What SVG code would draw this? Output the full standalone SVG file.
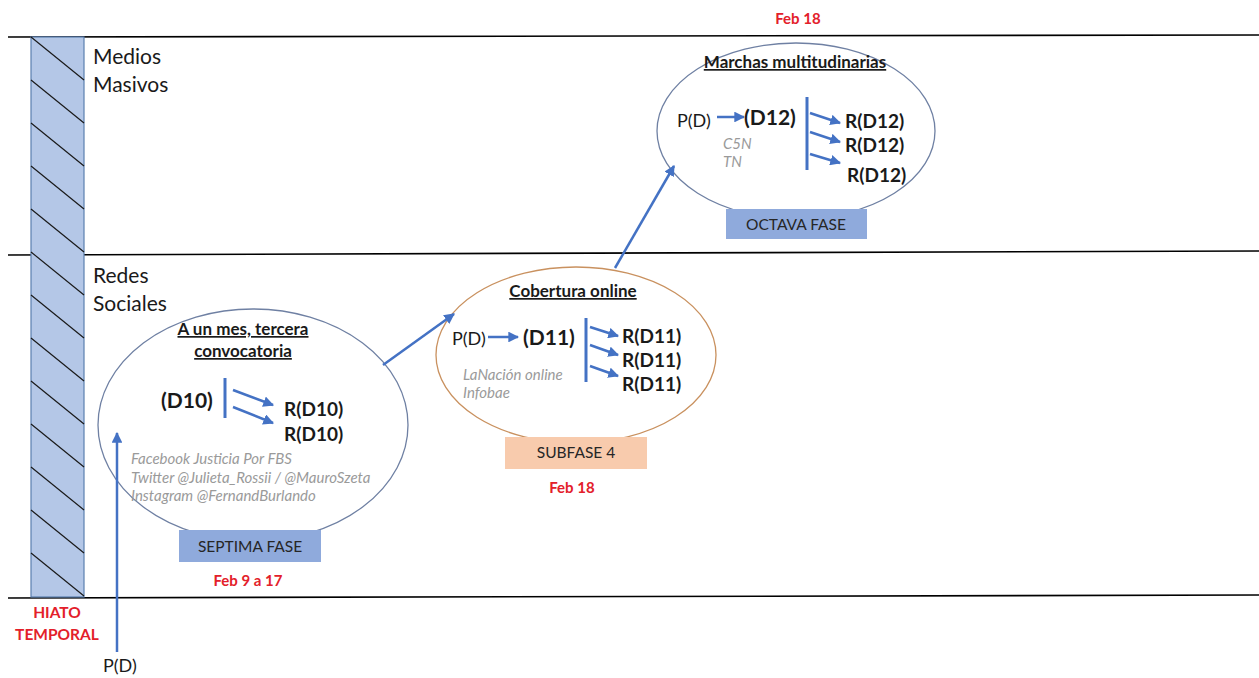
<svg xmlns="http://www.w3.org/2000/svg" width="1259" height="678" viewBox="0 0 1259 678">
<style>
text{font-family:Lato,"Open Sans","Liberation Sans",sans-serif;fill:#1a1a1a}
.lane{font-size:21px}
.title{font-size:17px;font-weight:bold;text-decoration:underline;text-anchor:middle}
.big{font-size:21px;font-weight:bold}
.r{font-size:19px;font-weight:bold}
.pd{font-size:18px}
.src{font-size:15px;font-style:italic;fill:#9a9a9a}
.lbl{font-size:15.5px;text-anchor:middle;fill:#262626}
.red{font-size:15px;font-weight:bold;fill:#e3202a;text-anchor:middle}
.hi{font-size:15.5px}
.arr{stroke:#4472c4;stroke-width:2.5;fill:none;marker-end:url(#ah)}
.bar{stroke:#4472c4;stroke-width:3}
.sep{stroke:#000;stroke-width:1.6}
</style>
<defs>
<marker id="ah" viewBox="0 0 10 10" refX="9" refY="5" markerWidth="4.3" markerHeight="4.3" orient="auto" markerUnits="strokeWidth">
<path d="M0,0 L10,5 L0,10 z" fill="#4472c4"/>
</marker>
</defs>
<rect width="1259" height="678" fill="#fff"/>

<g id="lanes">
<line class="sep" x1="8" y1="37" x2="1259" y2="35"/>
<line class="sep" x1="8" y1="255" x2="1259" y2="251"/>
<line class="sep" x1="8" y1="598" x2="1259" y2="595"/>
<text class="lane" x="93" y="64">Medios</text>
<text class="lane" x="93" y="92">Masivos</text>
<text class="lane" x="93" y="283">Redes</text>
<text class="lane" x="93" y="311">Sociales</text>
</g>

<g id="hiato">
<rect x="31" y="37" width="53" height="560" fill="#b4c7e7" stroke="#5b7fb0" stroke-width="1.2"/>
<g stroke="#1a1a1a" stroke-width="1.2">
<line x1="31" y1="37" x2="84" y2="80"/>
<line x1="31" y1="80" x2="84" y2="123"/>
<line x1="31" y1="123" x2="84" y2="166"/>
<line x1="31" y1="166" x2="84" y2="209"/>
<line x1="31" y1="209" x2="84" y2="252"/>
<line x1="31" y1="252" x2="84" y2="295"/>
<line x1="31" y1="295" x2="84" y2="338"/>
<line x1="31" y1="338" x2="84" y2="381"/>
<line x1="31" y1="381" x2="84" y2="424"/>
<line x1="31" y1="424" x2="84" y2="467"/>
<line x1="31" y1="467" x2="84" y2="510"/>
<line x1="31" y1="510" x2="84" y2="553"/>
<line x1="31" y1="553" x2="84" y2="596"/>
</g>
<text class="red hi" x="57" y="618">HIATO</text>
<text class="red hi" x="57" y="640">TEMPORAL</text>
</g>

<g id="septima">
<ellipse cx="253" cy="425" rx="155" ry="116" fill="none" stroke="#6f80a3" stroke-width="1.3"/>
<text class="title" x="243" y="335">A un mes, tercera</text>
<text class="title" x="243" y="357">convocatoria</text>
<text class="big" x="161" y="408">(D10)</text>
<line class="bar" x1="225" y1="378" x2="225" y2="418"/>
<line class="arr" x1="233" y1="390" x2="273" y2="405"/>
<line class="arr" x1="233" y1="407" x2="273" y2="423"/>
<text class="r" x="284" y="416">R(D10)</text>
<text class="r" x="284" y="441">R(D10)</text>
<text class="src" x="131" y="464">Facebook Justicia Por FBS</text>
<text class="src" x="131" y="483">Twitter @Julieta_Rossii / @MauroSzeta</text>
<text class="src" x="131" y="501">Instagram @FernandBurlando</text>
<rect x="179" y="530" width="142" height="32" fill="#8faadc"/>
<text class="lbl" x="250" y="552">SEPTIMA FASE</text>
<text class="red" x="248" y="586">Feb 9 a 17</text>
</g>

<g id="subfase4">
<ellipse cx="576" cy="355" rx="140" ry="88" fill="none" stroke="#c9915f" stroke-width="1.3"/>
<text class="title" x="573" y="297">Cobertura online</text>
<text class="pd" x="452" y="345">P(D)</text>
<line class="arr" x1="488" y1="337" x2="518" y2="337"/>
<text class="big" x="523" y="345">(D11)</text>
<line class="bar" x1="586" y1="318" x2="586" y2="382"/>
<line class="arr" x1="590" y1="327" x2="618" y2="336"/>
<line class="arr" x1="590" y1="345" x2="618" y2="355"/>
<line class="arr" x1="590" y1="366" x2="618" y2="376"/>
<text class="r" x="622" y="343">R(D11)</text>
<text class="r" x="622" y="367">R(D11)</text>
<text class="r" x="622" y="391">R(D11)</text>
<text class="src" x="463" y="380">LaNación online</text>
<text class="src" x="463" y="398">Infobae</text>
<rect x="505" y="437" width="142" height="32" fill="#f8cbad"/>
<text class="lbl" x="576" y="458">SUBFASE 4</text>
<text class="red" x="572" y="493">Feb 18</text>
</g>

<g id="octava">
<text class="red" x="798" y="24">Feb 18</text>
<ellipse cx="796" cy="131" rx="139" ry="88" fill="none" stroke="#6f80a3" stroke-width="1.3"/>
<text class="title" x="795" y="68">Marchas multitudinarias</text>
<text class="pd" x="677" y="127">P(D)</text>
<line class="arr" x1="717" y1="117" x2="744" y2="117"/>
<text class="big" x="744" y="125">(D12)</text>
<line class="bar" x1="807" y1="97" x2="807" y2="170"/>
<line class="arr" x1="810" y1="113" x2="840" y2="123"/>
<line class="arr" x1="810" y1="132" x2="840" y2="142"/>
<line class="arr" x1="810" y1="154" x2="840" y2="163"/>
<text class="r" x="845" y="128">R(D12)</text>
<text class="r" x="845" y="152">R(D12)</text>
<text class="r" x="847" y="182">R(D12)</text>
<text class="src" x="723" y="149">C5N</text>
<text class="src" x="723" y="167">TN</text>
<rect x="726" y="209" width="141" height="30" fill="#8faadc"/>
<text class="lbl" x="796" y="230">OCTAVA FASE</text>
</g>

<g id="pd-start">
<text class="pd" x="103" y="672">P(D)</text>
</g>

<g id="connectors">
<line class="arr" x1="117" y1="652" x2="117" y2="433"/>
<line class="arr" x1="383" y1="365" x2="454" y2="314"/>
<line class="arr" x1="615" y1="268" x2="674" y2="166"/>
</g>
</svg>
